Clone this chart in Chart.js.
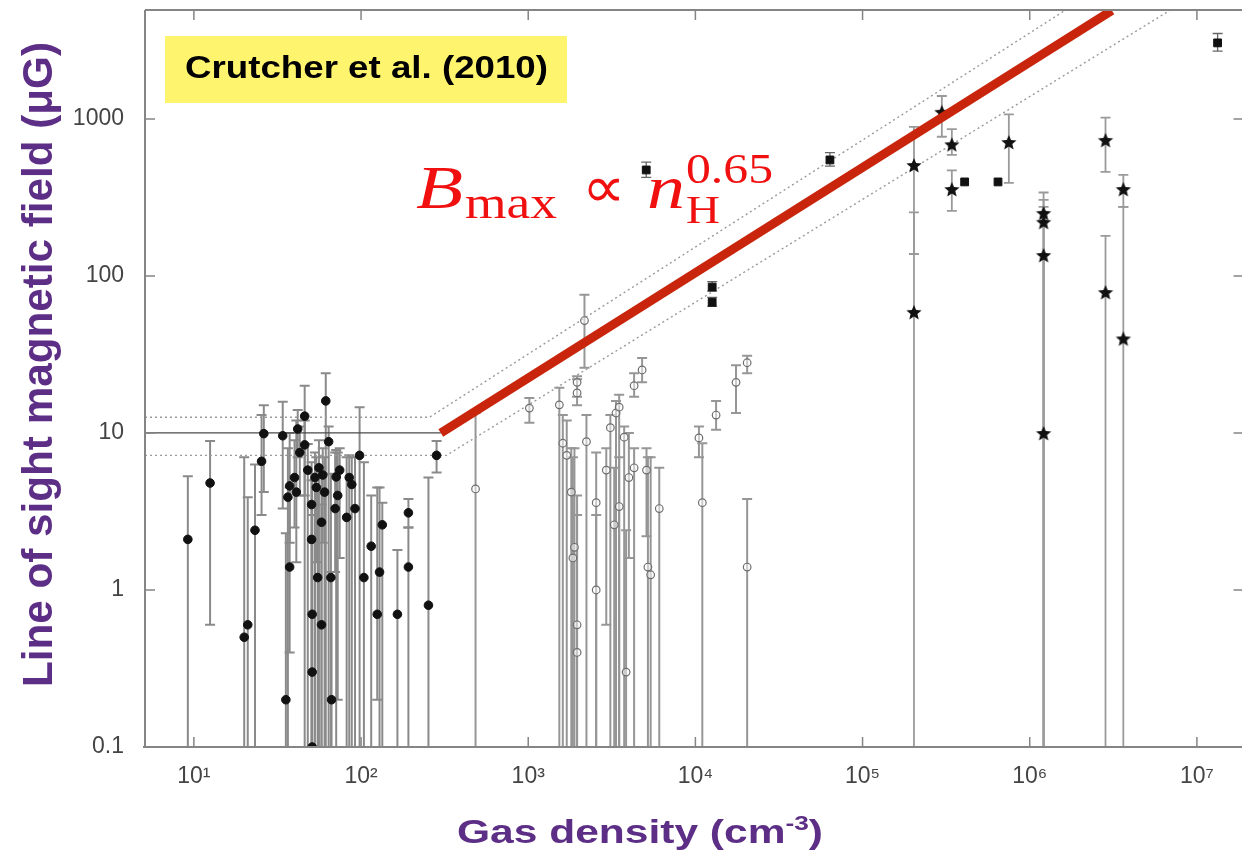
<!DOCTYPE html>
<html lang="en">
<head>
    <meta charset="UTF-8">
    <title>Crutcher et al. (2010)</title>
    <script src="https://cdn.jsdelivr.net/npm/chart.js"></script>
    <style>
        html, body {
            margin: 0;
            padding: 0;
            background: #fff;
            overflow: hidden;
        }
        .chart-box {
            position: relative;
            width: 1250px;
            height: 852px;
        }
    </style>
</head>
<body>
    <div class="chart-box"><canvas id="bfieldChart"></canvas></div>

    <script>
        // axis ranges and tick labels
        const xMin = 5.1, xMax = 1.9e7;
        const yMin = 0.1, yMax = 4940;
        const xTickValues = [10, 100, 1e3, 1e4, 1e5, 1e6, 1e7];
        const xTickLabels = ['10¹', '10²', '10³', '10⁴', '10⁵', '10⁶', '10⁷'];
        const yTickValues = [0.1, 1, 10, 100, 1000];
        const yTickLabels = ['0.1', '1', '10', '100', '1000'];

        // HI Zeeman (filled circles)
        const hiDensity = [9.2, 12.5, 20, 21, 23.2, 25.4, 26.2, 34, 35.5, 37.4, 36.5, 37.4, 40, 41, 41.8, 43, 46, 46, 48, 50.6,
            50.6, 51, 51, 51, 53, 54, 55, 56, 58, 58, 59, 60.5, 61.5, 64, 66, 66.6, 70, 71, 72.5, 74.5,
            82, 85, 88, 92, 98, 104, 115, 125, 129, 134, 165, 192, 192, 253, 283];
        const hiField = [2.1, 4.8, 0.5, 0.6, 2.4, 6.6, 9.9, 9.6, 0.2, 1.4, 3.9, 4.6, 5.2, 4.2, 10.6, 7.5, 12.8, 8.4, 5.8, 3.5,
            2.1, 0.7, 0.3, 0.1, 5.2, 4.5, 1.2, 6.0, 0.6, 2.7, 5.4, 4.2, 16, 8.8, 1.2, 0.2, 3.3, 5.25, 4.0, 5.8,
            2.9, 5.2, 4.7, 3.3, 7.2, 1.2, 1.9, 0.7, 1.3, 2.6, 0.7, 1.4, 3.1, 0.8, 7.2];
        const hiHigh = [5.3, 8.9, 7.0, 3.9, 6.3, 13, 15, 15.8, 2.3, 4.5, 8, 10, 9, 12, 14, 11, 20, 12, 8.5, 6.5,
            5, 5.5, 3, 2, 7.5, 7, 4.5, 9, 3.5, 6, 8, 7, 24, 11, 5.5, 1.3, 7.5, 7.8, 7.5, 8,
            7, 7.2, 7, 7, 14.6, 6.5, 4.0, 4.5, 4.5, 3.6, 1.8, 2.5, 3.8, 5.2, 8.9];
        const hiLow = [0.01, 0.6, 0.01, 0.01, 0.01, 3.0, 4.2, 3.3, 0.01, 0.4, 0.01, 2, 2.5, 1.5, 7, 4, 4, 0.01, 0.01, 0.01,
            0.01, 0.01, 0.01, 0.01, 0.01, 1.5, 0.01, 0.01, 0.01, 0.01, 2, 0.01, 0.01, 0.01, 0.01, 0.01, 1.3, 0.01, 0.2, 1.6,
            0.01, 0.01, 0.01, 0.01, 0.01, 0.01, 0.01, 0.2, 0.01, 0.01, 0.01, 0.01, 2.5, 0.01, 5.6];

        // OH Zeeman (open circles)
        const ohDensity = [484, 1016, 1535, 1610, 1700, 1810, 1890, 1850, 1960, 1960, 1960, 1960, 2170, 2230, 2550, 2550,
            2930, 3100, 3270, 3350, 3500, 3500, 3750, 3850, 4000, 4300, 4300, 4800, 5100, 5200, 5400, 6080,
            10500, 11000, 13300, 17500, 20400, 20400];
        const ohField = [4.4, 14.4, 15.1, 8.6, 7.2, 4.2, 1.87, 1.6, 0.6, 0.4, 18, 21, 52, 8.8, 3.6, 1.0,
            5.8, 10.8, 2.6, 13.4, 3.4, 14.6, 9.4, 0.3, 5.2, 6.0, 20, 25.2, 5.8, 1.4, 1.25, 3.3,
            9.3, 3.6, 13, 21, 28, 1.4];
        const ohHigh = [13.4, 16.7, 19.4, 13, 12, 8, 8, 7, 4, 3, 22, 23, 76, 13, 7.5, 3,
            8, 13, 6, 16, 7, 17.5, 11, 2.4, 10, 8, 24, 30, 8, 7, 7, 6,
            11, 8.6, 16, 27, 31, 3.8];
        const ohLow = [0.01, 11.6, 0.01, 0.01, 0.01, 0.01, 0.01, 0.01, 0.01, 0.01, 15, 17, 26, 0.01, 0.01, 0.01,
            0.6, 0.01, 0.01, 0.01, 0.01, 0.01, 0.01, 0.01, 1.6, 0.01, 17, 21, 2.2, 0.01, 0.01, 0.01,
            7, 0.01, 10.5, 13.4, 24, 0.01];

        // masers (filled squares)
        const sqDensity = [5080, 12600, 12600, 63800, 408000, 646000, 1.33e7];
        const sqField = [473, 85, 68, 548, 397, 397, 3050];
        const sqHigh = [530, 92, 73, 610, 397, 397, 3500];
        const sqLow = [425, 80, 64, 500, 397, 397, 2700];

        // CN Zeeman (stars)
        const cnDensity = [203000, 203000, 298000, 342000, 342000, 750000, 1.21e6, 1.21e6, 1.21e6, 1.21e6, 2.84e6, 2.84e6, 3.63e6, 3.63e6];
        const cnField = [509, 59, 1110, 690, 358, 713, 252, 221, 136, 10, 735, 79, 358, 40];
        const cnHigh = [889, 254, 1400, 860, 470, 1070, 340, 305, 275, 136, 1020, 180, 440, 275];
        const cnLow = [138, 0.01, 770, 590, 260, 392, 0.01, 0.01, 0.01, 0.01, 460, 0.01, 275, 0.01];

        // model lines
        const flatDensity = [5.1, 300];
        const flatField = [10, 10];
        const upperDensity = [5.1, 257, 1.64e6];
        const upperField = [12.6, 12.6, 4940];
        const lowerDensity = [5.1, 324, 6.95e6];
        const lowerField = [7.2, 7.2, 4940];
        const fitDensity = [300, 3.1e6];
        const fitField = [10, 4900];

        const sans = '"Liberation Sans", Helvetica, Arial, sans-serif';
        const serif = '"Liberation Serif", "Times New Roman", serif';
        const purple = '#5d2e86';

        const toPts = (xs, ys) => xs.map((v, i) => ({ x: v, y: ys[i] }));

        // filled five pointed star used as point style
        function makeStar(r) {
            const c = document.createElement('canvas');
            const s = Math.ceil(r * 2 + 2);
            c.width = s;
            c.height = s;
            const g = c.getContext('2d');
            g.fillStyle = '#111';
            g.beginPath();
            for (let i = 0; i < 10; i++) {
                const rad = i % 2 ? r * 0.45 : r;
                const a = -Math.PI / 2 + i * Math.PI / 5;
                const px = s / 2 + rad * Math.cos(a);
                const py = s / 2 + 1 + rad * Math.sin(a);
                if (i === 0) g.moveTo(px, py); else g.lineTo(px, py);
            }
            g.closePath();
            g.fill();
            return c;
        }

        // text squeezed/stretched to a measured width
        function fitText(ctx, text, left, baseline, width, font, color) {
            ctx.save();
            ctx.font = font;
            ctx.fillStyle = color;
            ctx.textAlign = 'left';
            ctx.textBaseline = 'alphabetic';
            const w = ctx.measureText(text).width;
            ctx.translate(left, baseline);
            ctx.scale(width / w, 1);
            ctx.fillText(text, 0, 0);
            ctx.restore();
        }

        const errorBars = {
            id: 'errorBars',
            beforeDatasetsDraw(chart) {
                const { ctx, chartArea, scales: { x, y } } = chart;
                ctx.save();
                ctx.beginPath();
                ctx.rect(chartArea.left, chartArea.top, chartArea.right - chartArea.left, chartArea.bottom - chartArea.top);
                ctx.clip();
                chart.data.datasets.forEach(ds => {
                    if (!ds.errHigh) return;
                    ctx.strokeStyle = ds.errColor;
                    ctx.lineWidth = ds.errWidth;
                    ds.data.forEach((p, j) => {
                        const hi = ds.errHigh[j], lo = ds.errLow[j];
                        if (hi === lo) return;
                        const px = x.getPixelForValue(p.x);
                        const top = y.getPixelForValue(hi);
                        const bot = y.getPixelForValue(lo);
                        ctx.beginPath();
                        ctx.moveTo(px, top);
                        ctx.lineTo(px, bot);
                        ctx.moveTo(px - 5, top);
                        ctx.lineTo(px + 5, top);
                        if (lo > yMin) {
                            ctx.moveTo(px - 5, bot);
                            ctx.lineTo(px + 5, bot);
                        }
                        ctx.stroke();
                    });
                });
                ctx.restore();
            }
        };

        const frameAndNotes = {
            id: 'frameAndNotes',
            afterDraw(chart) {
                const { ctx, chartArea: a, scales: { x, y } } = chart;
                ctx.save();
                // frame
                ctx.strokeStyle = '#858585';
                ctx.lineWidth = 2;
                ctx.beginPath();
                ctx.moveTo(a.left, a.top);
                ctx.lineTo(a.left, a.bottom);
                ctx.moveTo(a.left - 2, a.bottom);
                ctx.lineTo(a.right, a.bottom);
                ctx.moveTo(a.left, a.top);
                ctx.lineTo(a.right, a.top);
                ctx.stroke();
                // inward tick marks
                ctx.lineWidth = 1.5;
                ctx.beginPath();
                xTickValues.forEach(v => {
                    const px = x.getPixelForValue(v);
                    ctx.moveTo(px, a.bottom); ctx.lineTo(px, a.bottom - 10);
                    ctx.moveTo(px, a.top); ctx.lineTo(px, a.top + 10);
                });
                yTickValues.forEach(v => {
                    const py = y.getPixelForValue(v);
                    ctx.moveTo(a.left, py); ctx.lineTo(a.left + 10, py);
                    ctx.moveTo(a.right, py); ctx.lineTo(a.right - 10, py);
                });
                ctx.stroke();

                // reference box
                ctx.fillStyle = '#fff46e';
                ctx.fillRect(165, 36, 402, 67);
                fitText(ctx, 'Crutcher et al. (2010)', 185, 78, 363, 'bold 32px ' + sans, '#000');

                // relation label
                const red = '#f01010';
                fitText(ctx, 'B', 416, 208, 47, 'italic 62px ' + serif, red);
                fitText(ctx, 'max', 465, 218, 92, '46px ' + serif, red);
                fitText(ctx, '∝', 582, 207, 43, '58px ' + serif, red);
                fitText(ctx, 'n', 647, 208, 38, 'italic 62px ' + serif, red);
                fitText(ctx, 'H', 686, 223, 34, '40px ' + serif, red);
                fitText(ctx, '0.65', 686, 183, 87, '42px ' + serif, red);

                // y axis title
                ctx.save();
                ctx.translate(52, 687);
                ctx.rotate(-Math.PI / 2);
                fitText(ctx, 'Line of sight magnetic field (μG)', 0, 0, 645, 'bold 43px ' + sans, purple);
                ctx.restore();

                // x axis title with superscript
                ctx.save();
                ctx.fillStyle = purple;
                ctx.font = 'bold 34px ' + sans;
                const w1 = ctx.measureText('Gas density (cm').width;
                const w3 = ctx.measureText(')').width;
                ctx.font = 'bold 21px ' + sans;
                const w2 = ctx.measureText('-3').width;
                ctx.translate(457, 843);
                ctx.scale(366 / (w1 + w2 + w3), 1);
                ctx.font = 'bold 34px ' + sans;
                ctx.fillText('Gas density (cm', 0, 0);
                ctx.fillText(')', w1 + w2, 0);
                ctx.font = 'bold 21px ' + sans;
                ctx.fillText('-3', w1, -13);
                ctx.restore();

                ctx.restore();
            }
        };

        const starStyle = makeStar(8);

        const ctx = document.getElementById('bfieldChart').getContext('2d');
        const bfieldChart = new Chart(ctx, {
            type: 'scatter',
            data: {
                datasets: [
                    {
                        label: 'Bmax fit',
                        data: toPts(fitDensity, fitField),
                        showLine: true,
                        borderColor: '#c8250c',
                        borderWidth: 9,
                        borderCapStyle: 'butt',
                        pointRadius: 0
                    },
                    {
                        label: 'CN',
                        data: toPts(cnDensity, cnField),
                        errHigh: cnHigh,
                        errLow: cnLow,
                        errColor: '#9a9a9a',
                        errWidth: 1.8,
                        pointStyle: starStyle
                    },
                    {
                        label: 'Masers',
                        data: toPts(sqDensity, sqField),
                        errHigh: sqHigh,
                        errLow: sqLow,
                        errColor: '#666',
                        errWidth: 1.3,
                        pointStyle: 'rect',
                        pointRadius: 5.5,
                        backgroundColor: '#111',
                        borderColor: '#111'
                    },
                    {
                        label: 'HI',
                        data: toPts(hiDensity, hiField),
                        errHigh: hiHigh,
                        errLow: hiLow,
                        errColor: '#8a8a8a',
                        errWidth: 2,
                        pointStyle: 'circle',
                        pointRadius: 4.3,
                        backgroundColor: '#111',
                        borderColor: '#111'
                    },
                    {
                        label: 'OH',
                        data: toPts(ohDensity, ohField),
                        errHigh: ohHigh,
                        errLow: ohLow,
                        errColor: '#969696',
                        errWidth: 2,
                        pointStyle: 'circle',
                        pointRadius: 3.8,
                        backgroundColor: 'rgba(255,255,255,0.5)',
                        borderColor: '#6e6e6e',
                        borderWidth: 1.2
                    },
                    {
                        label: 'Flat',
                        data: toPts(flatDensity, flatField),
                        showLine: true,
                        borderColor: '#4a4a4a',
                        borderWidth: 1.3,
                        pointRadius: 0
                    },
                    {
                        label: 'Upper',
                        data: toPts(upperDensity, upperField),
                        showLine: true,
                        borderColor: '#9a9a9a',
                        borderWidth: 1.4,
                        borderDash: [2, 3],
                        pointRadius: 0
                    },
                    {
                        label: 'Lower',
                        data: toPts(lowerDensity, lowerField),
                        showLine: true,
                        borderColor: '#9a9a9a',
                        borderWidth: 1.4,
                        borderDash: [2, 3],
                        pointRadius: 0
                    }
                ]
            },
            options: {
                responsive: true,
                maintainAspectRatio: false,
                animation: false,
                layout: { padding: { top: 10, right: 5, left: 0, bottom: 0 } },
                plugins: {
                    legend: { display: false },
                    tooltip: { enabled: false }
                },
                scales: {
                    x: {
                        type: 'logarithmic',
                        min: xMin,
                        max: xMax,
                        bounds: 'data',
                        afterBuildTicks: s => { s.ticks = xTickValues.map(v => ({ value: v })); },
                        afterFit: s => {
                            s.height = 105;
                            s.paddingLeft = 0;
                            s.paddingRight = 0;
                        },
                        grid: { display: false, drawTicks: false },
                        border: { display: false },
                        ticks: {
                            autoSkip: false,
                            maxRotation: 0,
                            padding: 16,
                            color: '#444',
                            font: { family: sans, size: 23 },
                            callback: (v, i) => xTickLabels[i]
                        }
                    },
                    y: {
                        type: 'logarithmic',
                        min: yMin,
                        max: yMax,
                        bounds: 'data',
                        afterBuildTicks: s => { s.ticks = yTickValues.map(v => ({ value: v })); },
                        afterFit: s => {
                            s.width = 145;
                            s.paddingTop = 0;
                            s.paddingBottom = 0;
                        },
                        grid: { display: false, drawTicks: false },
                        border: { display: false },
                        ticks: {
                            autoSkip: false,
                            padding: 21,
                            color: '#444',
                            font: { family: sans, size: 23 },
                            callback: (v, i) => yTickLabels[i]
                        }
                    }
                }
            },
            plugins: [errorBars, frameAndNotes]
        });
    </script>
</body>
</html>
